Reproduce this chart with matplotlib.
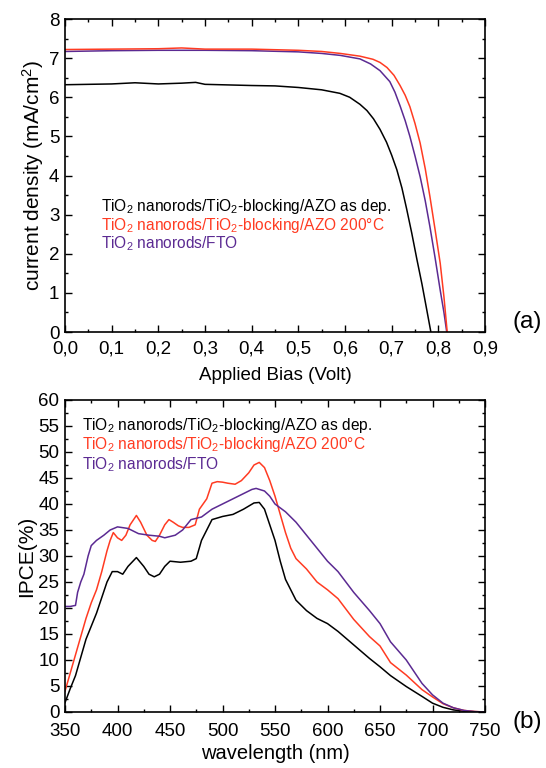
import matplotlib
matplotlib.use("Agg")
import matplotlib.pyplot as plt
from matplotlib.ticker import MultipleLocator, FuncFormatter

plt.rcParams['font.family'] = ['Liberation Sans', 'DejaVu Sans']
plt.rcParams['mathtext.fontset'] = 'custom'
plt.rcParams['mathtext.rm'] = 'Liberation Sans'
plt.rcParams['mathtext.default'] = 'regular'

labels = ["TiO$_2$ nanorods/TiO$_2$-blocking/AZO as dep.",
          "TiO$_2$ nanorods/TiO$_2$-blocking/AZO 200°C",
          "TiO$_2$ nanorods/FTO"]
colors = ["#000000", "#ff3b22", "#5b2a92"]

# J-V curves (a)
v_black = [0.0, 0.1, 0.15, 0.2, 0.25, 0.28, 0.3, 0.4, 0.45, 0.5, 0.55, 0.589, 0.61, 0.632, 0.647, 0.661, 0.675, 0.689, 0.70, 0.711, 0.722, 0.732, 0.743, 0.754, 0.765, 0.775, 0.784, 0.787]
j_black = [6.32, 6.34, 6.37, 6.34, 6.36, 6.38, 6.33, 6.30, 6.29, 6.25, 6.19, 6.10, 6.00, 5.82, 5.66, 5.45, 5.18, 4.85, 4.52, 4.15, 3.68, 3.15, 2.53, 1.86, 1.22, 0.58, 0.0, -0.3]
v_red = [0.0, 0.1, 0.2, 0.25, 0.3, 0.4, 0.5, 0.55, 0.59, 0.632, 0.66, 0.675, 0.69, 0.705, 0.718, 0.729, 0.739, 0.75, 0.761, 0.772, 0.782, 0.793, 0.804, 0.812, 0.819, 0.822]
j_red = [7.22, 7.23, 7.24, 7.26, 7.23, 7.23, 7.20, 7.17, 7.12, 7.05, 6.97, 6.89, 6.76, 6.56, 6.30, 6.05, 5.76, 5.33, 4.83, 4.17, 3.46, 2.62, 1.76, 0.9, 0.0, -0.3]
v_purple = [0.0, 0.1, 0.2, 0.3, 0.4, 0.5, 0.55, 0.59, 0.632, 0.655, 0.675, 0.696, 0.707, 0.718, 0.729, 0.739, 0.75, 0.761, 0.772, 0.782, 0.793, 0.804, 0.812, 0.818, 0.821]
j_purple = [7.17, 7.19, 7.20, 7.20, 7.19, 7.16, 7.12, 7.07, 6.98, 6.85, 6.68, 6.40, 6.13, 5.78, 5.40, 5.00, 4.50, 3.97, 3.35, 2.69, 1.90, 1.07, 0.5, 0.0, -0.3]

# IPCE curves (b)
w_black = [350, 355, 360, 370, 380, 390, 395, 400, 405, 410, 418, 425, 430, 435, 440, 445, 450, 460, 470, 475, 480, 485, 490, 500, 510, 520, 530, 535, 540, 545, 550, 555, 560, 570, 580, 590, 600, 610, 625, 640, 650, 660, 675, 690, 700, 710, 720, 730, 740, 750]
i_black = [1.8, 4.5, 7.0, 14.0, 19.0, 25.0, 27.0, 27.0, 26.5, 28.0, 29.7, 28.0, 26.5, 26.0, 26.5, 28.0, 29.0, 28.8, 29.0, 29.5, 33.0, 35.0, 37.0, 37.6, 38.0, 39.0, 40.2, 40.3, 39.0, 36.0, 33.0, 29.0, 25.5, 21.5, 19.5, 18.0, 17.0, 15.5, 12.9, 10.3, 8.7, 7.0, 4.9, 3.0, 1.7, 0.9, 0.4, 0.15, 0.05, 0.0]
w_red = [350, 360, 370, 375, 380, 385, 390, 393, 396, 400, 404, 408, 412, 418, 422, 428, 433, 436, 440, 445, 449, 453, 458, 462, 468, 474, 478, 485, 490, 495, 500, 505, 512, 518, 525, 530, 535, 540, 545, 550, 555, 560, 565, 570, 580, 590, 600, 610, 625, 640, 650, 660, 675, 690, 700, 710, 720, 730, 740, 750]
i_red = [4.0, 11.0, 18.0, 21.0, 23.5, 27.0, 31.0, 33.0, 34.5, 33.5, 33.0, 34.0, 36.0, 37.8, 36.5, 34.0, 33.0, 32.8, 34.0, 36.0, 37.0, 36.5, 35.8, 35.5, 35.5, 36.0, 39.0, 41.0, 44.0, 44.3, 44.2, 44.0, 43.8, 44.5, 46.0, 47.5, 48.0, 47.0, 44.5, 41.5, 38.0, 34.5, 31.5, 29.5, 27.5, 25.0, 23.5, 21.8, 17.8, 14.5, 12.7, 9.5, 7.1, 4.3, 2.9, 1.6, 0.8, 0.3, 0.1, 0.0]
w_purple = [350, 355, 360, 362, 365, 368, 372, 375, 380, 387, 393, 400, 410, 415, 420, 430, 440, 445, 455, 462, 470, 480, 490, 500, 510, 520, 528, 532, 540, 545, 550, 560, 570, 580, 590, 600, 610, 625, 640, 650, 660, 675, 690, 700, 710, 720, 730, 740, 750]
i_purple = [20.3, 20.3, 20.5, 23.0, 25.0, 26.5, 30.0, 32.0, 33.0, 34.0, 35.0, 35.6, 35.3, 34.8, 34.3, 34.0, 33.8, 33.5, 34.0, 35.0, 37.0, 37.5, 39.0, 40.0, 41.0, 42.0, 42.8, 43.0, 42.5, 41.5, 40.0, 38.5, 36.5, 34.0, 31.5, 29.0, 27.0, 23.0, 19.5, 17.0, 13.5, 10.0, 5.5, 3.3, 1.7, 0.8, 0.3, 0.08, 0.0]

fig = plt.figure(figsize=(5.46, 7.68), dpi=100)
ax1 = fig.add_axes([65/546, 1-332/768, 420/546, 313/768])
ax2 = fig.add_axes([65/546, 1-712/768, 420/546, 312/768])

lw = 1.1
for x, y, c in [(v_black, j_black, colors[0]), (v_purple, j_purple, colors[2]), (v_red, j_red, colors[1])]:
    ax1.plot(x, y, color=c, lw=lw)
for x, y, c in [(w_black, i_black, colors[0]), (w_red, i_red, colors[1]), (w_purple, i_purple, colors[2])]:
    ax2.plot(x, y, color=c, lw=lw)

ax1.set_xlim(0, 0.9)
ax1.set_ylim(0, 8)
ax1.xaxis.set_major_locator(MultipleLocator(0.1))
ax1.xaxis.set_minor_locator(MultipleLocator(0.05))
ax1.yaxis.set_major_locator(MultipleLocator(1))
ax1.yaxis.set_minor_locator(MultipleLocator(0.5))
ax1.xaxis.set_major_formatter(FuncFormatter(lambda v, p: f"{v:.1f}".replace('.', ',')))
ax1.set_xlabel("Applied Bias (Volt)", fontsize=13.5, labelpad=7)
ax1.set_ylabel("current density (mA/cm$^2$)", fontsize=15, labelpad=2)

ax2.set_xlim(350, 750)
ax2.set_ylim(0, 60)
ax2.xaxis.set_major_locator(MultipleLocator(50))
ax2.xaxis.set_minor_locator(MultipleLocator(25))
ax2.yaxis.set_major_locator(MultipleLocator(5))
ax2.yaxis.set_minor_locator(MultipleLocator(2.5))
ax2.set_xlabel("wavelength (nm)", fontsize=14.5, labelpad=3)
ax2.set_ylabel("IPCE(%)", fontsize=15, labelpad=2)

for ax in (ax1, ax2):
    ax.tick_params(which='both', direction='in', top=True, right=True, labelsize=13.5)
    ax.tick_params(axis='y', which='major', pad=4)
    ax.tick_params(which='major', length=5, width=1.0)
    ax.tick_params(which='minor', length=2.5, width=1.0)
    for s in ax.spines.values():
        s.set_linewidth(1.2)
ax1.tick_params(axis='x', which='major', pad=6)
ax2.tick_params(axis='x', which='major', pad=8)

ys1 = [0.387, 0.325, 0.267]
ys2 = [0.903, 0.842, 0.778]
for i in range(3):
    ax1.text(0.085, ys1[i], labels[i], color=colors[i], fontsize=11.2, transform=ax1.transAxes)
    ax2.text(0.041, ys2[i], labels[i], color=colors[i], fontsize=11.2, transform=ax2.transAxes)

fig.text(527/546, 1-322/768, "(a)", fontsize=17.5, ha='center', va='center')
fig.text(527/546, 1-722/768, "(b)", fontsize=17.5, ha='center', va='center')

fig.savefig("out.png", dpi=100)
